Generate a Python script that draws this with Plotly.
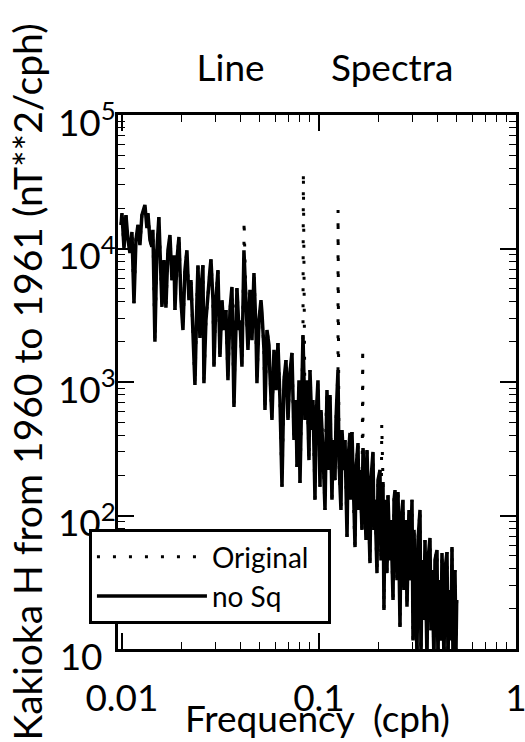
import plotly.graph_objects as go

# ---- data (frequency in cph, power in nT**2/cph) ----
freq_nosq = [
    0.0099, 0.0100, 0.01024, 0.01048, 0.01073, 0.01098, 0.01124, 0.01151, 0.01178, 0.01206,
    0.01234, 0.01263, 0.01308, 0.01339, 0.01355, 0.01387, 0.01419, 0.01436, 0.01470, 0.01504,
    0.0154, 0.01577, 0.01596, 0.01634, 0.01672, 0.01712, 0.01753, 0.01794, 0.01837, 0.01858,
    0.01902, 0.01947, 0.01993, 0.0204, 0.02088, 0.02137, 0.02188, 0.0224, 0.02293, 0.02347,
    0.02402, 0.02431, 0.02488,
    0.02518, 0.02577, 0.02607, 0.02669, 0.02732, 0.02797, 0.0283, 0.02897, 0.02931, 0.0300,
    0.03071, 0.03144, 0.03218, 0.03294, 0.03372, 0.03452, 0.03534, 0.03617, 0.03703, 0.0379,
    0.03835, 0.03926, 0.03972, 0.04065, 0.04161, 0.0426, 0.04361, 0.04464, 0.0457, 0.04678,
    0.04789, 0.04845, 0.0496, 0.05077, 0.05137, 0.05259, 0.0532, 0.05446, 0.05575, 0.05641,
    0.05773, 0.0591, 0.0605, 0.06193, 0.06339, 0.0649, 0.06644, 0.06801, 0.06962, 0.07127,
    0.07294, 0.07467, 0.07643, 0.07733, 0.07916, 0.0801, 0.08198, 0.08295, 0.08491, 0.08691,
    0.08897,
    0.09002, 0.09215, 0.09324, 0.09544, 0.09657, 0.09885, 0.1012, 0.1024, 0.1048, 0.1073,
    0.1086, 0.1098, 0.1124, 0.1138, 0.1164, 0.1178, 0.1206, 0.122, 0.1249, 0.1263,
    0.1293, 0.1309, 0.134, 0.1356, 0.1388, 0.1404, 0.1437, 0.1454, 0.1471, 0.1506,
    0.1524, 0.1541, 0.1578, 0.1596, 0.1615, 0.1653, 0.1673, 0.1712, 0.1732, 0.1753,
    0.1794, 0.1815, 0.1836, 0.188, 0.1902, 0.1924, 0.197, 0.1993,
    0.204, 0.2064, 0.2113, 0.2137, 0.2163, 0.2214, 0.224, 0.2293, 0.232, 0.2376,
    0.2404, 0.2432, 0.2489, 0.2519, 0.2578, 0.2609, 0.2669, 0.27, 0.2764, 0.2797,
    0.2863, 0.2897, 0.2966, 0.3001, 0.3036, 0.3108, 0.3145, 0.3182, 0.3257, 0.3295,
    0.3333, 0.3412, 0.3452, 0.3534, 0.3575, 0.366, 0.3703, 0.3746, 0.3835, 0.388,
    0.3972, 0.4018, 0.4066, 0.4162, 0.4211, 0.4311, 0.4361, 0.4465, 0.4517, 0.457,
    0.4678, 0.4733, 0.4789, 0.4902, 0.496, 0.5,
]

power_nosq = [
    15000, 18400, 10100, 17800, 11600, 9250, 13300, 3900, 11600, 15000,
    10600, 17800, 21200, 14200, 18400, 11600, 10300, 13800, 2000, 9700,
    17200, 4900, 3650, 8200, 3600, 9700, 12600, 5800, 8900, 3460,
    8200, 12200, 4100, 2450, 6900, 9700, 4100, 5800, 2450, 950,
    4100, 7500, 2140,
    4900, 7500, 980, 2900, 4900, 6900, 8300, 4100, 1300, 4100,
    6900, 1540, 4100, 2450, 3460, 1030, 3460, 5150, 650, 4100,
    5060, 2450, 2900, 1300, 9700, 4100, 1740, 4900, 2060, 6550,
    2450, 980, 2900, 4100, 3290, 1740, 617, 2450, 1890, 1130,
    519, 1740, 870, 1960, 733, 164, 1030, 1460, 519, 1190,
    1650, 368, 733, 231, 1030, 175, 1460, 2250, 519, 1030,
    260,
    1230, 437, 733, 131, 519, 1030, 164, 617, 309, 110,
    519, 871, 219, 799, 131, 368, 184, 519, 1230, 260,
    110, 437, 219, 368, 69, 260, 415, 131, 422, 92.5,
    58, 219, 349, 110, 219, 78, 320, 131, 65.5, 309,
    92.5, 44, 184, 299, 78, 131, 37, 184,
    219, 46, 178, 19.6, 131, 37, 142, 46, 92.5, 23.3,
    131, 155, 32.8, 150, 14.6, 92.5, 131, 27.7, 92.5, 20.7,
    110, 32.8, 131, 11.6, 78, 23.3, 9.0, 65.5, 110, 8.2,
    46.4, 16.5, 65.5, 8.2, 46.4, 67.8, 13.8, 39.1, 8.2, 46.4,
    55.1, 8.2, 32.8, 11.6, 52.3, 8.2, 39.1, 53.2, 8.2, 27.7,
    11.6, 58, 8.2, 39.1, 9.8, 23.3,
]

# Sq harmonic line peaks present only in the original series
peak_freq = [0.04167, 0.08333, 0.125, 0.1667, 0.2083]
peak_power = [16300, 37400, 19400, 1800, 484]

orig_pairs = sorted(list(zip(freq_nosq, power_nosq)) + list(zip(peak_freq, peak_power)))
freq_orig = [p[0] for p in orig_pairs]
power_orig = [p[1] for p in orig_pairs]

NB = "\u00a0"
x_tick_vals = [0.01, 0.1, 1]
x_tick_text = ["0.01", "0.1", "1"]
y_tick_vals = [10, 100, 1000, 10000, 100000]
y_tick_text = ["10<sup>" + NB * 2 + "</sup>", "10<sup>2</sup>", "10<sup>3</sup>",
               "10<sup>4</sup>", "10<sup>5</sup>"]

x_minor = [m * d for d in (0.01, 0.1) for m in range(2, 10)]
y_minor = [m * d for d in (10, 100, 1000, 10000) for m in range(2, 10)]

FONT = "Lato"

fig = go.Figure()
fig.add_trace(go.Scatter(
    x=freq_orig, y=power_orig, mode="lines", name="Original" + NB * 2,
    line=dict(color="black", width=3, dash="3px,13px"),
))
fig.add_trace(go.Scatter(
    x=freq_nosq, y=power_nosq, mode="lines", name="no Sq",
    line=dict(color="black", width=3.5),
))

axis_common = dict(
    type="log", showgrid=False, zeroline=False, automargin=False,
    showline=True, linecolor="black", linewidth=2.5, mirror="ticks",
    ticks="inside", ticklen=16, tickwidth=1.5, tickcolor="black",
    ticklabeloverflow="allow",
    tickfont=dict(family=FONT, size=37, color="black"),
)

fig.update_layout(
    width=525, height=742,
    margin=dict(l=118, r=9, t=115, b=93),
    paper_bgcolor="white", plot_bgcolor="white",
    font=dict(family=FONT, color="black", size=28),
    title=dict(
        text="Line" + NB * 7 + "Spectra",
        x=325 / 525, xref="container", xanchor="center",
        y=1 - 68 / 742, yref="container", yanchor="middle",
        font=dict(family=FONT, size=37, color="black"),
    ),
    showlegend=True,
    legend=dict(
        x=-0.073, y=0.2247, xanchor="left", yanchor="top",
        bordercolor="black", borderwidth=3, bgcolor="white",
        font=dict(family=FONT, size=28, color="black"),
        itemwidth=110, tracegroupgap=0,
    ),
    xaxis=dict(
        **axis_common,
        range=[-2.02, 0],
        tickmode="array", tickvals=x_tick_vals, ticktext=x_tick_text,
        ticklabelstandoff=15,
        minor=dict(ticks="inside", ticklen=7, tickwidth=1.2, tickcolor="black",
                   tickmode="array", tickvals=x_minor, showgrid=False),
    ),
    yaxis=dict(
        **axis_common,
        range=[1, 5],
        tickmode="array", tickvals=y_tick_vals, ticktext=y_tick_text,
        ticklabelshift=8, ticklabelstandoff=-8,
        minor=dict(ticks="inside", ticklen=7, tickwidth=1.2, tickcolor="black",
                   tickmode="array", tickvals=y_minor, showgrid=False),
        title=dict(text="Kakioka H from 1960 to 1961 (nT**2/cph)", standoff=4,
                   font=dict(family=FONT, size=39, color="black")),
    ),
    annotations=[dict(
        text="Frequency" + NB * 2 + "(cph)",
        xref="paper", yref="paper", x=0.5, y=-0.128,
        xanchor="center", yanchor="middle", showarrow=False,
        font=dict(family=FONT, size=37, color="black"),
    )],
)

fig.write_html("out.html")
